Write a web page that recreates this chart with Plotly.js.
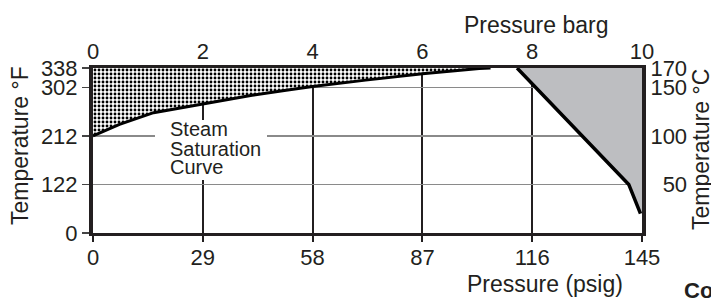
<!DOCTYPE html>
<html>
<head>
<meta charset="utf-8">
<script src="https://cdn.plot.ly/plotly-3.0.1.min.js"></script>
<style>
  html, body { margin: 0; padding: 0; background: #fff; }
  #chart { width: 711px; height: 299px; }
</style>
</head>
<body>
<div id="chart"></div>
<script>
// ---- data ----
const psigTicks = [0, 29, 58, 87, 116, 145];
const bargTicks = [0, 2, 4, 6, 8, 10];
const tempCTickPos = [0, 50, 100, 150, 170];
const tempFLabels = ['0', '122', '212', '302', '338'];
const tempCTicks = [50, 100, 150, 170];

// steam saturation curve (psig, °C)
const satP = [0, 7, 16, 29, 42, 51, 58, 72, 87, 102, 105];
const satT = [100, 112, 124, 133, 142, 147, 151, 157.5, 164, 169.5, 170];

// condensate boundary (psig, °C)
const diagP = [112, 141.5, 144.6];
const diagT = [170, 50, 20];

const maxP = 145, maxT = 170, maxBarg = 10;

// ---- geometry helpers (layout only) ----
const L = 93, R = 69, T = 68, B = 66, W = 711, H = 299;
const pw = W - L - R, ph = H - T - B;
const px = x => (x - L) / pw;
const py = y => (H - B - y) / ph;

const FONT = 'Liberation Sans, Arial, Helvetica, sans-serif';

const traces = [
  { // dotted superheat region
    x: satP.concat([0]), y: satT.concat([maxT]),
    type: 'scatter', mode: 'lines', fill: 'toself',
    fillcolor: 'white',
    fillpattern: { shape: '.', bgcolor: 'white', fgcolor: 'black', size: 4, solidity: 0.4 },
    line: { width: 0, color: 'rgba(0,0,0,0)' }, hoverinfo: 'skip', showlegend: false
  },
  { // gray region
    x: diagP.concat([maxP, maxP]), y: diagT.concat([diagT[diagT.length - 1], maxT]),
    type: 'scatter', mode: 'lines', fill: 'toself', fillcolor: '#bdbec1',
    line: { width: 0, color: 'rgba(0,0,0,0)' }, hoverinfo: 'skip', showlegend: false
  },
  { // saturation curve
    x: satP, y: satT, type: 'scatter', mode: 'lines',
    line: { color: 'black', width: 3 }, hoverinfo: 'skip', showlegend: false
  },
  { // diagonal boundary
    x: diagP, y: diagT, type: 'scatter', mode: 'lines',
    line: { color: 'black', width: 3.5 }, hoverinfo: 'skip', showlegend: false
  },
  { // secondary axes anchor
    x: [0], y: [0], xaxis: 'x2', yaxis: 'y2', type: 'scatter', mode: 'markers',
    marker: { size: 0, opacity: 0 }, hoverinfo: 'skip', showlegend: false
  }
];

const tick = { family: FONT, size: 22, color: '#231f20' };
const ttl = { family: FONT, size: 23, color: '#231f20' };

const layout = {
  width: W, height: H,
  margin: { l: L, r: R, t: T, b: B, pad: 0 },
  paper_bgcolor: 'white', plot_bgcolor: 'white',
  showlegend: false,
  font: { family: FONT, color: '#231f20' },
  xaxis: {
    range: [0, maxP], tickvals: psigTicks, ticktext: psigTicks.map(String),
    showgrid: true, gridcolor: '#231f20', gridwidth: 2,
    showline: true, linecolor: '#231f20', linewidth: 3,
    ticks: 'outside', ticklen: 6, tickwidth: 2, tickcolor: '#231f20',
    ticklabelstandoff: -3,
    tickfont: tick, zeroline: false, fixedrange: true
  },
  xaxis2: {
    overlaying: 'x', side: 'top', anchor: 'y',
    range: [0, maxBarg], tickvals: bargTicks, ticktext: bargTicks.map(String),
    showgrid: false, showline: true, linecolor: '#231f20', linewidth: 3,
    ticks: '', ticklabelstandoff: -3,
    tickfont: tick, zeroline: false, fixedrange: true
  },
  yaxis: {
    range: [0, maxT], tickvals: tempCTickPos, ticktext: tempFLabels,
    showgrid: true, gridcolor: '#8a8a8a', gridwidth: 1.3,
    showline: true, linecolor: '#231f20', linewidth: 4,
    ticks: 'outside', ticklen: 7, tickwidth: 1.3, tickcolor: '#444',
    tickfont: tick, zeroline: false, fixedrange: true
  },
  yaxis2: {
    overlaying: 'y', side: 'right', anchor: 'x',
    range: [0, maxT], tickvals: tempCTicks, ticktext: ['\u200750', '100', '150', '170'],
    showgrid: false, showline: true, linecolor: '#231f20', linewidth: 4,
    ticks: '', tickfont: tick, zeroline: false, fixedrange: true
  },
  shapes: [
    { type: 'rect', xref: 'paper', yref: 'paper', layer: 'above',
      x0: px(155), x1: px(267), y0: py(180), y1: py(120),
      fillcolor: 'white', line: { width: 0 } }
  ],
  annotations: [
    { text: 'Steam', xref: 'paper', yref: 'paper', x: px(168), y: py(129),
      xanchor: 'left', yanchor: 'middle', showarrow: false, font: { family: FONT, size: 20, color: '#231f20' } },
    { text: 'Saturation', xref: 'paper', yref: 'paper', x: px(168), y: py(149),
      xanchor: 'left', yanchor: 'middle', showarrow: false, font: { family: FONT, size: 20, color: '#231f20' } },
    { text: 'Curve', xref: 'paper', yref: 'paper', x: px(168), y: py(167),
      xanchor: 'left', yanchor: 'middle', showarrow: false, font: { family: FONT, size: 20, color: '#231f20' } },
    { text: 'Pressure (psig)', xref: 'paper', yref: 'paper', x: px(545), y: py(284),
      xanchor: 'center', yanchor: 'middle', showarrow: false, font: ttl },
    { text: 'Pressure barg', xref: 'paper', yref: 'paper', x: px(536), y: py(25),
      xanchor: 'center', yanchor: 'middle', showarrow: false, font: ttl },
    { text: 'Temperature °F', xref: 'paper', yref: 'paper', x: px(20), y: py(146),
      xanchor: 'center', yanchor: 'middle', textangle: -90, showarrow: false, font: ttl },
    { text: 'Temperature °C', xref: 'paper', yref: 'paper', x: px(701), y: py(150),
      xanchor: 'center', yanchor: 'middle', textangle: -90, showarrow: false, font: ttl },
    { text: '<b>Co</b>', xref: 'paper', yref: 'paper', x: px(682), y: py(290),
      xanchor: 'left', yanchor: 'middle', showarrow: false, font: { family: FONT, size: 22, color: '#231f20' } }
  ]
};

Plotly.newPlot('chart', traces, layout, { displayModeBar: false, staticPlot: true });
</script>
</body>
</html>
